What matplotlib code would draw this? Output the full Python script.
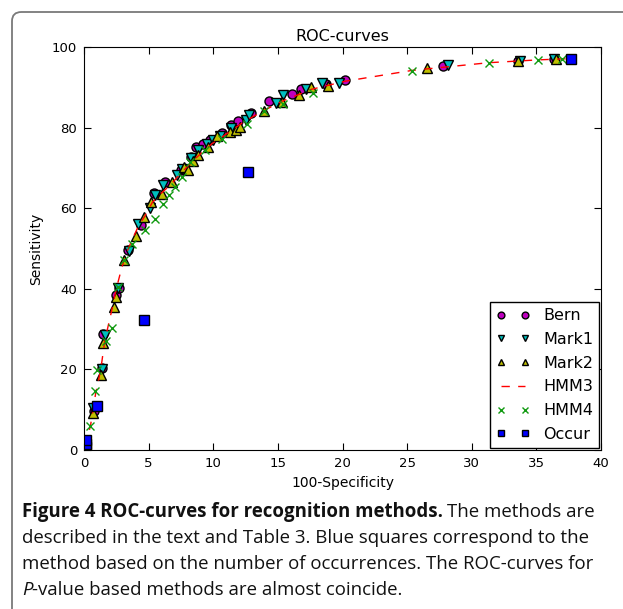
import numpy as np
import matplotlib
matplotlib.use("Agg")
import matplotlib.pyplot as plt
from matplotlib.patches import FancyBboxPatch

# values: (100-specificity, sensitivity)
bern_x = [0.77, 1.37, 1.5, 2.5, 2.7, 3.4, 4.4, 5.4, 6.25, 7.5, 8.3, 8.7, 9.2, 9.75, 10.65,
          11.4, 11.9, 12.9, 14.3, 16.1, 16.8, 18.7, 20.2, 27.8, 33.6, 36.4]
bern_y = [9.8, 20.4, 28.9, 38.5, 40.1, 49.7, 55.8, 63.8, 66.6, 69.5, 72.6, 75.1, 75.9, 76.8, 78.6,
          80.6, 81.6, 83.7, 86.7, 88.3, 89.6, 90.7, 91.7, 95.4, 96.6, 96.9]

mark1_x = [0.67, 1.4, 1.6, 2.65, 3.5, 4.2, 5.1, 5.5, 6.1, 7.2, 7.6, 8.3, 8.85, 9.5, 10.0, 10.5,
           11.4, 12.5, 12.8, 14.85, 15.4, 17.2, 18.4, 19.75, 28.2, 33.7, 36.4]
mark1_y = [10.5, 20.2, 28.5, 40.2, 49.4, 56.1, 60.0, 63.3, 65.8, 68.2, 69.8, 72.4, 74.4, 75.9, 76.9, 77.8,
           79.8, 81.9, 83.1, 86.1, 88.1, 89.6, 91.0, 91.1, 95.5, 96.6, 97.0]

mark2_x = [0.67, 1.3, 1.5, 2.3, 2.5, 3.1, 4.05, 4.65, 5.15, 6.0, 6.8, 7.7, 8.05, 8.45, 8.85, 9.6,
           10.3, 11.3, 11.75, 12.1, 13.9, 15.3, 16.6, 17.6, 18.9, 26.55, 33.6, 36.5]
mark2_y = [9.1, 18.6, 26.5, 35.5, 38.0, 47.1, 53.2, 57.9, 61.6, 63.4, 66.5, 70.1, 69.5, 71.8, 73.2, 75.3,
           77.8, 79.0, 79.4, 80.2, 84.2, 86.4, 88.1, 90.0, 90.2, 94.9, 96.5, 96.9]

hmm3_x = [0.1, 0.5, 0.9, 1.3, 1.6, 2.1, 2.5, 2.9, 3.3, 3.7, 4.2, 4.7, 5.3, 6.0, 6.7, 7.3, 7.9,
          8.5, 9.2, 9.9, 10.6, 11.5, 12.4, 13.9, 15.3, 17.6, 20.2, 25.4, 31.3, 35.1, 37.5]
hmm3_y = [1.0, 6.0, 14.0, 20.0, 27.0, 34.0, 40.0, 45.0, 49.0, 52.0, 55.5, 58.0, 61.5, 63.8, 65.8, 68.0, 70.0,
          72.0, 74.0, 76.0, 77.5, 79.5, 81.5, 84.2, 86.5, 89.5, 91.5, 94.2, 96.1, 96.8, 97.1]

hmm4_x = [0.46, 0.85, 0.98, 1.7, 2.2, 2.6, 3.1, 3.75, 4.75, 5.5, 6.1, 6.6, 7.05, 7.6, 8.2, 9.35,
          10.65, 12.6, 13.9, 15.4, 17.7, 25.4, 31.3, 35.1, 37.0]
hmm4_y = [6.0, 14.7, 19.9, 27.0, 30.2, 40.5, 47.2, 51.2, 54.6, 57.3, 61.0, 63.2, 65.3, 67.7, 71.5, 74.4,
          77.1, 81.0, 84.2, 85.9, 88.5, 94.1, 96.1, 96.8, 96.9]

occur_x = [0.13, 0.13, 0.13, 0.98, 4.66, 12.65, 37.7]
occur_y = [0.7, 1.6, 2.6, 10.9, 32.3, 69.0, 97.0]

x_ticks = [0, 5, 10, 15, 20, 25, 30, 35, 40]
y_ticks = [0, 20, 40, 60, 80, 100]

caption_lines = [
    "The methods are",
    "described in the text and Table 3. Blue squares correspond to the",
    "method based on the number of occurrences. The ROC-curves for",
    "-value based methods are almost coincide.",
]

fig = plt.figure(figsize=(6.23, 6.09), dpi=100)

# rounded frame around figure + caption
frame = FancyBboxPatch((12 / 623, -0.2), 1.2, 1.2 - 12 / 609,
                       boxstyle="round,pad=0,rounding_size=0.015",
                       transform=fig.transFigure, facecolor="none",
                       edgecolor="#7a7a7a", linewidth=1.3, clip_on=False)
fig.patches.append(frame)

ax = fig.add_axes([84 / 623, 1 - 450 / 609, 517 / 623, 403 / 609])

mk = dict(markersize=6.5, markeredgecolor="black", markeredgewidth=1.0, linestyle="none")
ax.plot(bern_x, bern_y, marker="o", color="#bf00bf", label="Bern", **mk)
ax.plot(mark1_x, mark1_y, marker="v", color="#00bfbf", label="Mark1", **mk)
ax.plot(mark2_x, mark2_y, marker="^", color="#bfbf00", label="Mark2", **mk)
ax.plot(hmm3_x, hmm3_y, linestyle="--", color="red", linewidth=1.0, dashes=(6, 6), label="HMM3")
ax.plot(hmm4_x, hmm4_y, marker="x", color="#119a11", markersize=6, markeredgewidth=1.0,
        linestyle="none", label="HMM4")
ax.plot(occur_x, occur_y, marker="s", color="#0000ff", label="Occur", **mk)

ax.set_xlim(0, 40)
ax.set_ylim(0, 100)
ax.set_xticks(x_ticks)
ax.set_yticks(y_ticks)
ax.tick_params(direction="in", top=True, right=True, length=5, labelsize=9.5, pad=5)
ax.set_xlabel("100-Specificity", fontsize=10, labelpad=4)
ax.set_ylabel("Sensitivity", fontsize=10, labelpad=6)
ax.set_title("ROC-curves", fontsize=11.5, pad=4)

leg = ax.legend(loc="lower right", numpoints=2, fontsize=11.5, markerscale=0.75,
                fancybox=False, edgecolor="black", framealpha=1, borderaxespad=0.1,
                handlelength=2.1, labelspacing=0.55)
leg.get_frame().set_linewidth(1.0)

# caption
cap_font = ["Open Sans", "DejaVu Sans"]
cap_size = 13.4
cap_col = "#111111"
cx = 22 / 623
t = fig.text(cx, 1 - 512 / 609, "Figure 4 ROC-curves for recognition methods.", fontsize=cap_size,
             fontweight="bold", family=cap_font, va="center", ha="left", color=cap_col)
fig.canvas.draw()
bb = t.get_window_extent()
fig.text(bb.x1 / 623 + 0.006, 1 - 512 / 609, caption_lines[0], fontsize=cap_size,
         family=cap_font, va="center", ha="left", color=cap_col)
fig.text(cx, 1 - 538 / 609, caption_lines[1], fontsize=cap_size, family=cap_font,
         va="center", ha="left", color=cap_col)
fig.text(cx, 1 - 564 / 609, caption_lines[2], fontsize=cap_size, family=cap_font,
         va="center", ha="left", color=cap_col)
p = fig.text(cx, 1 - 590 / 609, "P", fontsize=cap_size, family=cap_font, style="italic",
             va="center", ha="left", color=cap_col)
fig.canvas.draw()
pb = p.get_window_extent()
fig.text(pb.x1 / 623, 1 - 590 / 609, caption_lines[3], fontsize=cap_size, family=cap_font,
         va="center", ha="left", color=cap_col)

fig.savefig("out.png", dpi=100)
